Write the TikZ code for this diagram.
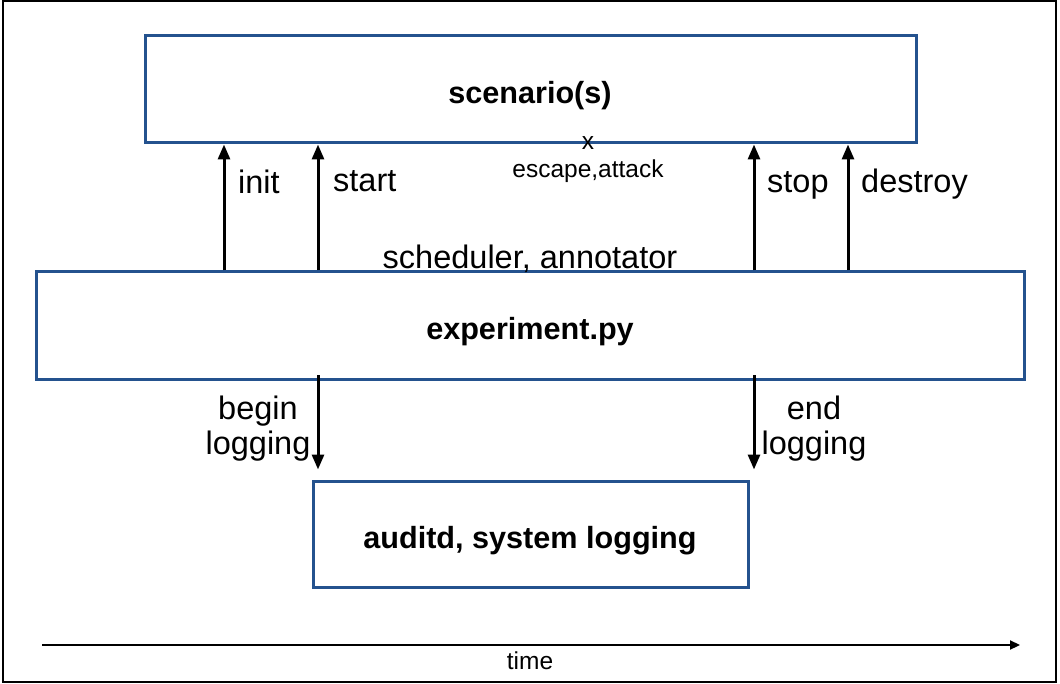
\documentclass[tikz,border=0pt]{standalone}
\usepackage{fontspec}
\setmainfont{Liberation Sans}
\usetikzlibrary{arrows.meta,calc}
\definecolor{boxblue}{RGB}{36,82,142}
\tikzset{
  box/.style={draw=boxblue, line width=3pt, inner sep=0pt},
  boxtext/.style={inner sep=0pt, anchor=base, font=\fontsize{30.6}{36}\selectfont\bfseries},
  lbl/.style={inner sep=0pt, font=\fontsize{32.5}{35}\selectfont},
  small/.style={inner sep=0pt, anchor=base, font=\fontsize{24.5}{28}\selectfont},
  flow/.style={line width=3pt, -{Triangle[length=15pt,width=12pt]}},
  timearrow/.style={line width=2.2pt, -{Triangle[length=10pt,width=9pt]}},
}
\begin{document}
\begin{tikzpicture}[x=1pt,y=-1pt]
\useasboundingbox (0,0) rectangle (1060,684);
\draw[line width=2pt] (2.5,1.5) rectangle (1056,682);
% boxes
\node[box, minimum width=771pt, minimum height=107pt] (scen) at (530.5,89.5) {};
\node[box, minimum width=988pt, minimum height=108pt] (exp) at (530,326) {};
\node[box, minimum width=435pt, minimum height=106pt] (aud) at (530.5,534) {};
\node[boxtext] (tscen) at (530,104) {scenario(s)};
\node[boxtext] (texp) at (530,340) {experiment.py};
\node[boxtext] (taud) at (530,548.5) {auditd, system logging};
% up arrows
\foreach \n/\xx in {a/224,b/318,c/754,d/848}{
  \coordinate (u\n) at (\xx,0);
  \draw[flow] (exp.north -| u\n) -- (scen.south -| u\n);
}
% down arrows
\foreach \n/\xx in {e/318,f/754}{
  \coordinate (d\n) at (\xx,0);
  \draw[flow, shorten <=-6pt, shorten >=10pt] (exp.south -| d\n) -- (aud.north -| d\n);
}
% labels
\node[lbl, anchor=base west] (linit) at (238,193.3) {init};
\node[lbl, anchor=base west] (lstart) at (333,191.7) {start};
\node[lbl, anchor=base west] (lstop) at (767,192.5) {stop};
\node[lbl, anchor=base west] (ldestroy) at (861,192.5) {destroy};
\node[lbl, anchor=base] (lsched) at (530,268.7) {scheduler, annotator};
\node[small] (lx) at (588,150) {x};
\node[small] (lesc) at (588,177.5) {escape,attack};
\node[lbl, anchor=base] (lbegin1) at (258,419.7) {begin};
\node[lbl, anchor=base] (lbegin2) at (258,454.7) {logging};
\node[lbl, anchor=base] (lend1) at (814,419) {end};
\node[lbl, anchor=base] (lend2) at (814,454.5) {logging};
% time axis
\coordinate (t0) at (42,645);
\coordinate (t1) at (1020,645);
\draw[timearrow] (t0) -- (t1);
\node[small] (ltime) at (530,669) {time};
\end{tikzpicture}
\end{document}
